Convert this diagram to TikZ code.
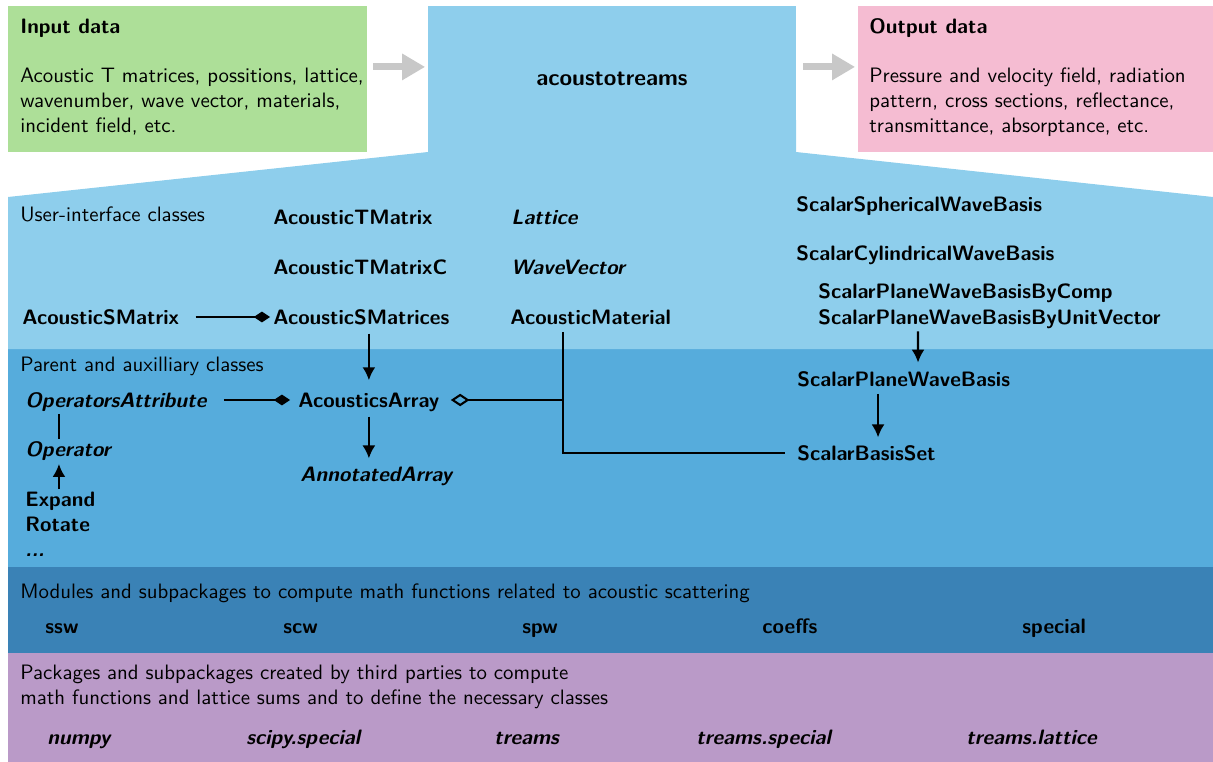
\documentclass[tikz,border=0pt]{standalone}
\usepackage{tikz}
\usetikzlibrary{arrows.meta}
\renewcommand{\familydefault}{\sfdefault}
\definecolor{inputgreen}{RGB}{173,223,152}
\definecolor{outputpink}{RGB}{245,188,210}
\definecolor{userblue}{RGB}{142,206,236}
\definecolor{parentblue}{RGB}{86,172,220}
\definecolor{moduleblue}{RGB}{58,130,182}
\definecolor{thirdpurple}{RGB}{186,154,200}
\definecolor{flowgray}{RGB}{200,200,200}
\tikzset{
	cls/.style={anchor=west, inner sep=0pt, text height=7pt, text depth=0pt, font=\bfseries},
	abscls/.style={cls, font=\bfseries\itshape},
	caption/.style={anchor=base west, inner sep=0pt},
	block/.style={inner sep=0pt, outer sep=0pt, minimum height=70.1pt},
	conn/.style={line width=1pt},
	arr/.style={conn, -{Latex[length=6.2pt,width=6.2pt]}},
	comp/.style={conn, -{Diamond[length=7.8pt,width=5.2pt]}},
	aggr/.style={conn, -{Diamond[open,length=9pt,width=6pt]}},
	flow/.style={line width=3.4pt, flowgray, -{Triangle[length=11pt,width=12pt]}}
}

\begin{document}
\begin{tikzpicture}[x=0.48pt,y=-0.48pt]
		%%%%% START %%%%%
		\useasboundingbox (0,0) rectangle (1213,762);
		
		\fill[thirdpurple] (8,653) rectangle (1213,762);
		\fill[moduleblue] (8,567) rectangle (1213,653);
		\fill[parentblue] (8,349) rectangle (1213,567);
		\fill[userblue] (428,120) -- (428,152) -- (8,197) -- (8,349) -- (1213,349) -- (1213,197) -- (796,152) -- (796,120) -- cycle;
		
		\node[block, fill=inputgreen, minimum width=172.3pt] (input) at (187.5,79) {};
		\node[block, fill=userblue, minimum width=176.6pt, font=\bfseries\fontsize{11}{13}\selectfont] (core) at (612,79) {acoustotreams};
		\node[block, fill=outputpink, minimum width=170.4pt] (output) at (1035.5,79) {};
		\draw[flow, shorten <=2.9pt, shorten >=1.4pt] ([yshift=5.8pt]input.east) -- ([yshift=5.8pt]core.west);
		\draw[flow, shorten <=3.4pt, shorten >=1.4pt] ([yshift=5.8pt]core.east) -- ([yshift=5.8pt]output.west);
		
		\node[caption, font=\bfseries] (input-title) at (20,33) {Input data};
		\node[anchor=north west, inner sep=0pt, align=left] (input-text) at (20,67.5) {Acoustic T matrices, possitions, lattice,\\wavenumber, wave vector, materials,\\incident field, etc.};
		\node[caption, font=\bfseries] (output-title) at (869,33) {Output data};
		\node[anchor=north west, inner sep=0pt, align=left] (output-text) at (869,67.5) {Pressure and velocity field, radiation\\pattern, cross sections, reflectance,\\transmittance, absorptance, etc.};
		
		% user-interface classes
		\node[caption] (user-cap) at (20,221) {User-interface classes};
		\node[cls] (tmatrix) at (273,217) {AcousticTMatrix};
		\node[cls] (tmatrixc) at (273,267) {AcousticTMatrixC};
		\node[cls] (smatrices) at (273,317) {AcousticSMatrices};
		\node[cls] (smatrix) at (22,317) {AcousticSMatrix};
		\node[abscls] (lattice) at (511,217) {Lattice};
		\node[abscls] (wavevector) at (511,267) {WaveVector};
		\node[cls] (material) at (510,317) {AcousticMaterial};
		\node[cls] (spherical) at (796,204) {ScalarSphericalWaveBasis};
		\node[cls] (cylindrical) at (796,253) {ScalarCylindricalWaveBasis};
		\node[cls] (bycomp) at (818,291) {ScalarPlaneWaveBasisByComp};
		\node[cls] (byunit) at (818,317) {ScalarPlaneWaveBasisByUnitVector};
		
		% parent and auxilliary classes
		\node[caption] (parent-cap) at (20,371) {Parent and auxilliary classes};
		\node[abscls] (opattr) at (25,400) {OperatorsAttribute};
		\node[cls] (array) at (298,400) {AcousticsArray};
		\node[abscls] (annot) at (300,474) {AnnotatedArray};
		\node[abscls] (operator) at (25,449) {Operator};
		\node[anchor=north west, inner sep=0pt, align=left, font=\bfseries] (expand) at (25,491.5) {Expand\\Rotate\\\textit{...}};
		\node[cls] (pw) at (797,379) {ScalarPlaneWaveBasis};
		\node[cls] (basisset) at (797,453) {ScalarBasisSet};
		\coordinate (mat-j) at (563,400);
		
		\draw[comp, shorten <=7.7pt, shorten >=1.4pt] (smatrix) -- (smatrices);
		\draw[arr, shorten <=4.3pt, shorten >=5.8pt] (array.north |- smatrices.south) -- (array.north);
		\draw[arr, shorten <=4.3pt, shorten >=3.8pt] (array.south) -- (array.south |- annot.north);
		\draw[comp, shorten <=8.2pt, shorten >=3.8pt] (opattr) -- (array);
		\draw[aggr, shorten >=5.3pt] (mat-j) -- (array);
		\draw[conn, shorten <=3.4pt, shorten >=5.8pt] (material.south -| mat-j) |- (basisset);
		\draw[conn, shorten <=2.9pt, shorten >=1.3pt] ([xshift=16.3pt]opattr.south west) -- ([xshift=16.3pt]operator.north west);
		\draw[arr, shorten <=1.2pt, shorten >=3.5pt] ([xshift=16.3pt]expand.north west) -- ([xshift=16.3pt]operator.south west);
		\draw[arr, shorten <=3.2pt, shorten >=4.2pt] ([xshift=48pt]byunit.south west) -- ([xshift=58.1pt]pw.north west);
		\draw[arr, shorten <=3.4pt, shorten >=3.8pt] ([xshift=38.9pt]pw.south west) -- ([xshift=38.9pt]basisset.north west);
		
		% modules
		\node[caption] (module-cap) at (20,598) {Modules and subpackages to compute math functions related to acoustic scattering};
		\node[cls] (ssw) at (45,626) {ssw};
		\node[cls] (scw) at (283,626) {scw};
		\node[cls] (spw) at (522,626) {spw};
		\node[cls] (coeffs) at (762,626) {coeffs};
		\node[cls] (special) at (1022,626) {special};
		
		% third parties
		\node[anchor=north west, inner sep=0pt, align=left] (third-cap) at (20,664.5) {Packages and subpackages created by third parties to compute\\math functions and lattice sums and to define the necessary classes};
		\node[abscls] (numpy) at (47,737) {numpy};
		\node[abscls] (scipy) at (246,737) {scipy.special};
		\node[abscls] (treams) at (494,737) {treams};
		\node[abscls] (treams-special) at (696,737) {treams.special};
		\node[abscls] (treams-lattice) at (966,737) {treams.lattice};
		%%%%% END %%%%%
\end{tikzpicture}
\end{document}
